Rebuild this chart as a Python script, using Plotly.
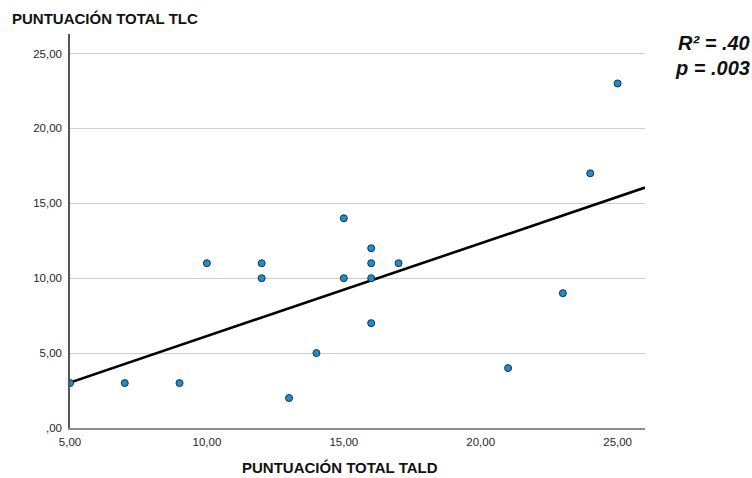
import numpy as np
import plotly.graph_objects as go

# Puntuaciones por participante
tald = [5, 7, 9, 10, 12, 12, 13, 14, 15, 15, 16, 16, 16, 16, 17, 21, 23, 24, 25]
tlc = [3, 3, 3, 11, 11, 10, 2, 5, 14, 10, 12, 11, 10, 7, 11, 4, 9, 17, 23]

x_ticks = [5, 10, 15, 20, 25]
x_tick_labels = ["5,00", "10,00", "15,00", "20,00", "25,00"]
y_ticks = [0, 5, 10, 15, 20, 25]
y_tick_labels = [",00", "5,00", "10,00", "15,00", "20,00", "25,00"]

x_range = [5, 26]
y_range = [0, 26.3]

# Recta de regresión por mínimos cuadrados
slope, intercept = np.polyfit(tald, tlc, 1)
fit_x = np.array(x_range, dtype=float)
fit_y = slope * fit_x + intercept

fig = go.Figure()
fig.add_trace(go.Scatter(
    x=fit_x, y=fit_y, mode="lines",
    line=dict(color="black", width=2.6),
    hoverinfo="skip", showlegend=False,
))
fig.add_trace(go.Scatter(
    x=tald, y=tlc, mode="markers",
    marker=dict(size=7, color="#1a8fd0", line=dict(color="#1f2f3c", width=1)),
    showlegend=False,
))

tick_font = dict(family="Liberation Sans, Arial, sans-serif", size=11.5, color="#262626")

fig.update_xaxes(
    range=x_range, tickvals=x_ticks, ticktext=x_tick_labels,
    showgrid=False, zeroline=False, showline=True, linecolor="#8c8c8c", linewidth=1.5,
    ticks="", tickfont=tick_font, ticklabelstandoff=2,
)
fig.update_yaxes(
    range=y_range, tickvals=y_ticks, ticktext=y_tick_labels,
    showgrid=True, gridcolor="#cfcfcf", gridwidth=1, zeroline=False,
    showline=True, linecolor="#555555", linewidth=1.5,
    ticks="", tickfont=tick_font, ticklabelstandoff=4,
)

title_font = dict(family="Liberation Sans, Arial, sans-serif", size=15, color="#111111")
stat_font = dict(family="Liberation Sans, Arial, sans-serif", size=20, color="#111111")
fig.update_layout(
    width=752, height=478,
    margin=dict(l=70, r=107, t=34, b=50),
    paper_bgcolor="white", plot_bgcolor="white",
    annotations=[
        dict(text="<b>PUNTUACIÓN TOTAL TLC</b>", xref="paper", yref="paper",
             x=(10 - 70) / 575, y=1 + 16 / 394, xanchor="left", yanchor="middle",
             showarrow=False, font=title_font),
        dict(text="<b>PUNTUACIÓN TOTAL TALD</b>", xref="paper", yref="paper",
             x=(340 - 70) / 575, y=-(467 - 428) / 394, xanchor="center", yanchor="middle",
             showarrow=False, font=title_font),
        dict(text="<b><i>R² = .40</i></b>", xref="paper", yref="paper",
             x=(752 - 70) / 575, y=1 - (43 - 34) / 394, xanchor="right", yanchor="middle",
             showarrow=False, font=stat_font),
        dict(text="<b><i>p = .003</i></b>", xref="paper", yref="paper",
             x=(752 - 70) / 575, y=1 - (68 - 34) / 394, xanchor="right", yanchor="middle",
             showarrow=False, font=stat_font),
    ],
)

fig.write_html("out.html")
